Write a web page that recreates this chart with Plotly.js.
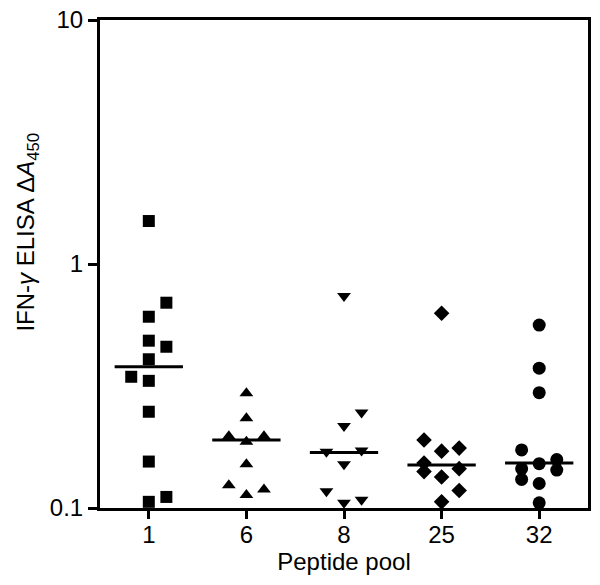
<!DOCTYPE html>
<html>
<head>
<meta charset="utf-8">
<script src="https://cdn.plot.ly/plotly-3.0.1.min.js"></script>
<style>
  body { margin: 0; background: #fff; }
  #chart { width: 600px; height: 585px; }
</style>
</head>
<body>
<div id="chart"></div>
<script>
// peptide pools on the x axis
var pools = ['1', '6', '8', '25', '32'];
var symbols = ['square', 'triangle-up', 'triangle-down', 'diamond', 'circle'];

// IFN-gamma ELISA values per pool
var pool1 = [1.50, 0.694, 0.608, 0.485, 0.458, 0.407, 0.345, 0.332, 0.248, 0.155, 0.111, 0.106];
var pool6 = [0.295, 0.233, 0.197, 0.197, 0.187, 0.151, 0.124, 0.119, 0.113];
var pool8 = [0.739, 0.246, 0.217, 0.170, 0.172, 0.151, 0.117, 0.105, 0.108];
var pool25 = [0.628, 0.190, 0.171, 0.176, 0.153, 0.141, 0.145, 0.134, 0.118, 0.106];
var pool32 = [0.562, 0.374, 0.297, 0.173, 0.152, 0.158, 0.143, 0.145, 0.131, 0.126, 0.105];

// column of each dot inside its group (-1 left, 0 centre, 1 right)
var col1 = [0, 1, 0, 0, 1, 0, -1, 0, 0, 0, 1, 0];
var col6 = [0, 0, -1, 1, 0, 0, -1, 1, 0];
var col8 = [0, 1, 0, -1, 1, 0, -1, 0, 1];
var col25 = [0, -1, 0, 1, -1, -1, 1, 0, 1, 0];
var col32 = [0, 0, 0, -1, 0, 1, 1, -1, -1, 0, 0];

// medians (horizontal bars)
var medians = [0.379, 0.190, 0.169, 0.150, 0.153];

var values = [pool1, pool6, pool8, pool25, pool32];
var cols = [col1, col6, col8, col25, col32];

var step = 0.18;   // spacing of dot columns
var half = 0.35;   // half width of median bar

var traces = [];
values.forEach(function (vals, i) {
    var xs = [];
    cols[i].forEach(function (c) {
        xs.push(i + c * step);
    });
    traces.push({
        x: xs,
        y: vals,
        type: 'scatter',
        mode: 'markers',
        cliponaxis: false,
        marker: {
            symbol: symbols[i],
            size: i === 4 ? 13 : 12,
            color: '#000'
        },
        hoverinfo: 'y'
    });
});

// median bars
var mx = [], my = [];
medians.forEach(function (m, i) {
    mx.push(i - half, i + half, null);
    my.push(m, m, null);
});
traces.push({
    x: mx,
    y: my,
    type: 'scatter',
    mode: 'lines',
    line: { color: '#000', width: 3 },
    hoverinfo: 'skip'
});

var layout = {
    width: 600,
    height: 585,
    showlegend: false,
    paper_bgcolor: '#fff',
    plot_bgcolor: '#fff',
    margin: { l: 100, r: 12, t: 20, b: 77 },
    font: { family: 'Liberation Sans, Arial, sans-serif', color: '#000', size: 24 },
    xaxis: {
        range: [-0.5, 4.5],
        tickvals: [0, 1, 2, 3, 4],
        ticktext: pools,
        showgrid: false,
        zeroline: false,
        showline: true,
        mirror: true,
        linecolor: '#000',
        linewidth: 3,
        ticks: 'outside',
        ticklen: 8,
        tickwidth: 3,
        tickcolor: '#000',
        tickfont: { size: 24 },
        ticklabelstandoff: -5,
        title: { text: 'Peptide pool', font: { size: 24 }, standoff: 0 }
    },
    yaxis: {
        type: 'log',
        range: [-1, 1],
        tickvals: [0.1, 1, 10],
        ticktext: ['0.1', '1', '10'],
        showgrid: false,
        zeroline: false,
        showline: true,
        mirror: true,
        linecolor: '#000',
        linewidth: 3,
        ticks: 'outside',
        ticklen: 9,
        tickwidth: 3,
        tickcolor: '#000',
        tickfont: { size: 24 }
    },
    annotations: [{
        text: 'IFN-<i>γ</i> ELISA Δ<i>A</i><sub>450</sub>',
        xref: 'paper',
        yref: 'paper',
        x: -0.148,
        y: 0.566,
        xanchor: 'center',
        yanchor: 'middle',
        textangle: -90,
        showarrow: false,
        font: { size: 24 }
    }]
};

Plotly.newPlot('chart', traces, layout, { displayModeBar: false });
</script>
</body>
</html>
